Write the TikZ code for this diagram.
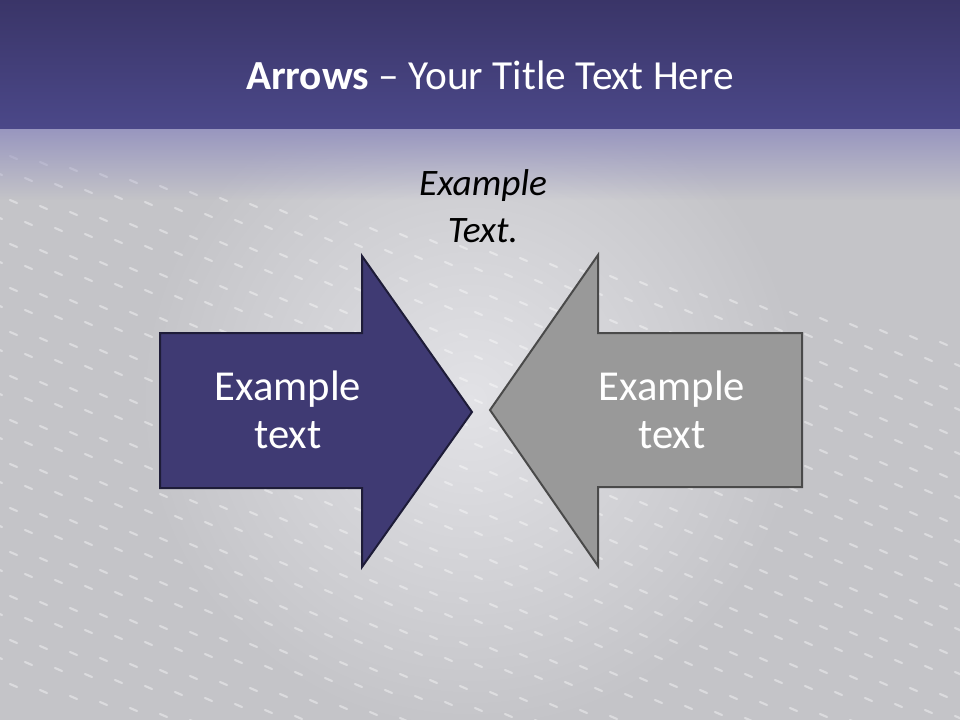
\documentclass[tikz,border=0pt]{standalone}
\usepackage{fontspec}
\setmainfont{Carlito}
\usetikzlibrary{fadings}
\definecolor{bandtop}{HTML}{3A3568}
\definecolor{bandbot}{HTML}{4B4889}
\definecolor{bg}{HTML}{C4C4C8}
\definecolor{lav}{HTML}{9896BF}
\definecolor{glow}{HTML}{E2E2E6}
\definecolor{navyfill}{HTML}{3F3A73}
\definecolor{navyline}{HTML}{1E1C38}
\definecolor{grayfill}{HTML}{999999}
\definecolor{grayline}{HTML}{4A4A4A}
\tikzset{
  arrowshape/.style={line width=1.5pt, line join=miter},
  boxtext/.style={text=white, align=center, font=\fontsize{32}{36}\selectfont},
  dashmark/.style={white, opacity=0.4, line width=1.6pt, line cap=round}
}
\begin{document}
\begin{tikzpicture}[x=0.75pt,y=-0.75pt]
\useasboundingbox (0,0) rectangle (960,720);
\fill[bg] (0,0) rectangle (960,720);
\shade[inner color=glow, outer color=bg] (470,400) circle (330);
% texture of dashes
\foreach \r in {0,...,24}{
  \foreach \c in {0,...,34}{
    \pgfmathsetmacro{\px}{\c*30 + mod(\r,2)*15 - 20}
    \pgfmathsetmacro{\py}{150 + \r*22 + \c*6}
    \draw[dashmark] (\px,\py) -- ++(7,3);
  }
}
\fill[lav, path fading=south] (0,128) rectangle (960,200);
\shade[top color=bandtop, bottom color=bandbot] (0,0) rectangle (960,129);
% title
\node[text=white, font=\fontsize{31}{36}\selectfont] (title) at (490,75) {\textbf{Arrows} – Your Title Text Here};
\node[align=center, font=\fontsize{28}{35}\selectfont\itshape] (ex) at (483,206) {Example\\Text.};
% arrows
\draw[arrowshape, draw=navyline, fill=navyfill] (160,333) -- (362,333) -- (362,256) -- (472,412) -- (362,567) -- (362,488) -- (160,488) -- cycle;
\draw[arrowshape, draw=grayline, fill=grayfill] (802,333) -- (598,333) -- (598,255) -- (490,410) -- (598,566) -- (598,487) -- (802,487) -- cycle;
\node[boxtext] (lt) at (288,410) {Example\\text};
\node[boxtext] (rt) at (672,410) {Example\\text};
\end{tikzpicture}
\end{document}
